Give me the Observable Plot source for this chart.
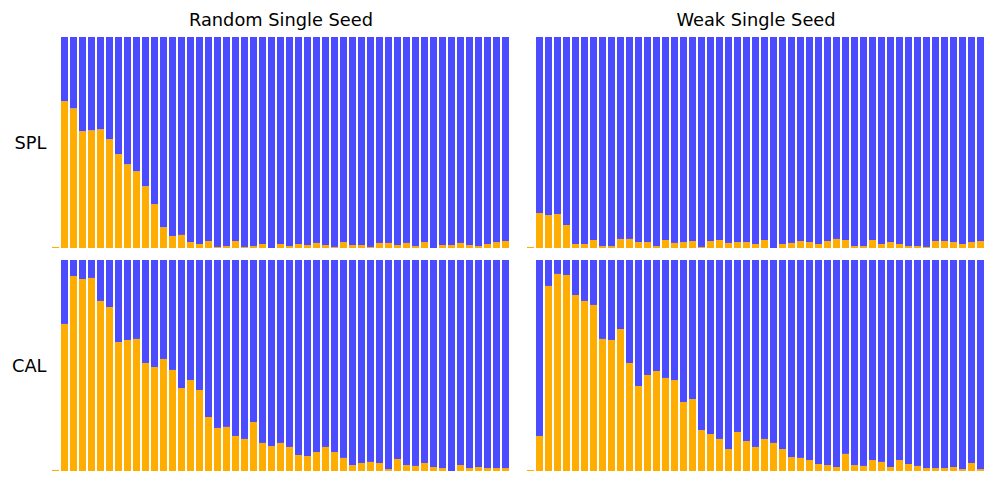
<!DOCTYPE html>
<html>
<head>
<meta charset="utf-8">
<script src="https://cdn.jsdelivr.net/npm/d3@7"></script>
<script src="https://cdn.jsdelivr.net/npm/@observablehq/plot@0.6"></script>
<style>
  html, body { margin: 0; padding: 0; background: #fff; }
  #chart { width: 990px; height: 478px; }
</style>
</head>
<body>
<div id="chart"></div>
<script>
// Bin index (0..50); bin 0 holds only a tiny orange sliver.
const bins = d3.range(0, 51);
const methods = ["Random Single Seed", "Weak Single Seed"];
const metrics = ["SPL", "CAL"];

// Orange (lower) share for each bin; the blue part fills the remainder to 1.
const randomSPL = [0.005,
  0.696, 0.662, 0.554, 0.558, 0.563, 0.516, 0.445, 0.397, 0.364, 0.293,
  0.208, 0.099, 0.057, 0.062, 0.028, 0.019, 0.033, 0.005, 0.009, 0.033,
  0.005, 0.009, 0.019, 0.000, 0.019, 0.009, 0.019, 0.014, 0.024, 0.014,
  0.005, 0.028, 0.014, 0.014, 0.005, 0.024, 0.024, 0.014, 0.024, 0.009,
  0.028, 0.000, 0.014, 0.014, 0.024, 0.014, 0.009, 0.019, 0.028, 0.033];
const weakSPL = [0.005,
  0.166, 0.156, 0.161, 0.109, 0.019, 0.019, 0.038, 0.009, 0.009, 0.043,
  0.043, 0.028, 0.028, 0.009, 0.038, 0.024, 0.028, 0.033, 0.005, 0.033,
  0.038, 0.024, 0.028, 0.028, 0.019, 0.038, 0.000, 0.019, 0.024, 0.033,
  0.028, 0.019, 0.033, 0.043, 0.038, 0.009, 0.009, 0.038, 0.019, 0.028,
  0.019, 0.009, 0.009, 0.005, 0.033, 0.033, 0.028, 0.019, 0.028, 0.033];
const randomCAL = [0.005,
  0.697, 0.924, 0.910, 0.915, 0.806, 0.777, 0.611, 0.621, 0.626, 0.512,
  0.493, 0.531, 0.479, 0.393, 0.431, 0.384, 0.256, 0.204, 0.209, 0.166,
  0.152, 0.232, 0.133, 0.118, 0.133, 0.114, 0.076, 0.071, 0.090, 0.114,
  0.090, 0.062, 0.028, 0.038, 0.043, 0.038, 0.009, 0.057, 0.028, 0.024,
  0.038, 0.019, 0.014, 0.000, 0.028, 0.014, 0.019, 0.014, 0.014, 0.014];
const weakCAL = [0.005,
  0.166, 0.877, 0.934, 0.929, 0.834, 0.806, 0.787, 0.626, 0.621, 0.673,
  0.512, 0.403, 0.455, 0.474, 0.441, 0.431, 0.327, 0.341, 0.194, 0.175,
  0.152, 0.104, 0.185, 0.142, 0.114, 0.152, 0.133, 0.104, 0.066, 0.062,
  0.052, 0.033, 0.028, 0.019, 0.081, 0.028, 0.024, 0.052, 0.043, 0.019,
  0.052, 0.033, 0.024, 0.014, 0.014, 0.014, 0.019, 0.009, 0.038, 0.009];

const parts = ["lower", "upper"];
const partColors = ["#FFAD00", "#4B4BFF"];

const panels = [
  {method: methods[0], metric: metrics[0], values: randomSPL},
  {method: methods[1], metric: metrics[0], values: weakSPL},
  {method: methods[0], metric: metrics[1], values: randomCAL},
  {method: methods[1], metric: metrics[1], values: weakCAL}
];

const rows = [];
for (const p of panels) {
  p.values.forEach((v, i) => {
    rows.push({method: p.method, metric: p.metric, bin: bins[i], lo: 0, hi: v, part: parts[0]});
    if (i > 0) rows.push({method: p.method, metric: p.metric, bin: bins[i], lo: v, hi: 1, part: parts[1]});
  });
}

const chart = Plot.plot({
  width: 990,
  height: 478,
  marginTop: 37,
  marginBottom: 7,
  marginLeft: 50,
  marginRight: 5,
  style: {fontFamily: "DejaVu Sans", background: "#fff", color: "#000"},
  x: {type: "band", domain: bins, paddingInner: 0.22, paddingOuter: 0, axis: null},
  y: {domain: [0, 1], axis: null},
  fx: {domain: methods, paddingInner: 0.034, paddingOuter: 0, label: null},
  fy: {domain: metrics, paddingInner: 0.054, paddingOuter: 0, label: null},
  color: {type: "ordinal", domain: parts, range: partColors},
  marks: [
    Plot.barY(rows, {fx: "method", fy: "metric", x: "bin", y1: "lo", y2: "hi", fill: "part"}),
    Plot.axisFx({anchor: "top", tickSize: 0, tickPadding: 12, fontSize: 17.8, label: null}),
    Plot.axisFy({anchor: "left", tickSize: 0, tickPadding: 5, fontSize: 17.8, label: null})
  ]
});
document.getElementById("chart").appendChild(chart);
</script>
</body>
</html>
